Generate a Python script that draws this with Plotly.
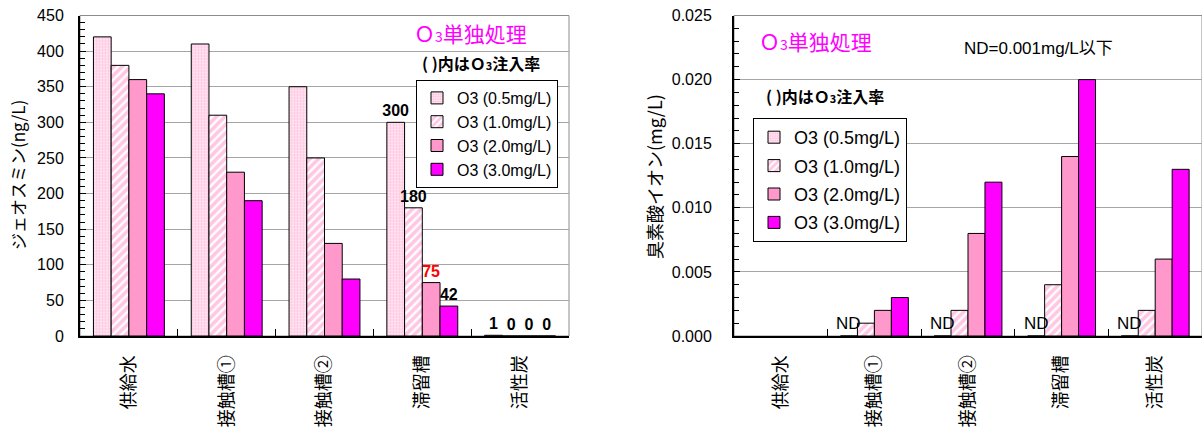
import plotly.graph_objects as go

# Sampling points along the treatment line
categories = ["供給水", "接触槽①", "接触槽②", "滞留槽", "活性炭"]
series_names = ["O3 (0.5mg/L)", "O3 (1.0mg/L)", "O3 (2.0mg/L)", "O3 (3.0mg/L)"]

# Geosmin (ng/L) for each ozone dose
geosmin_05 = [420, 410, 350, 300, 1]
geosmin_10 = [380, 310, 250, 180, 0]
geosmin_20 = [360, 230, 130, 75, 0]
geosmin_30 = [340, 190, 80, 42, 0]

geosmin_text_05 = ["", "", "", "300", "1"]
geosmin_text_10 = ["", "", "", "180", "0"]
geosmin_text_20 = ["", "", "", "75", "0"]
geosmin_text_30 = ["", "", "", "42", "0"]

# Bromate (mg/L); None = not measured, 0 = below detection (ND)
bromate_05 = [None, 0, 0, 0, 0]
bromate_10 = [None, 0.001, 0.002, 0.004, 0.002]
bromate_20 = [None, 0.002, 0.008, 0.014, 0.006]
bromate_30 = [None, 0.003, 0.012, 0.020, 0.013]

bromate_text_05 = ["", "ND", "ND", "ND", "ND"]

LATIN = "Liberation Sans, Arial, Noto Sans CJK JP"
CJK = "Noto Sans CJK JP, Liberation Sans"

PINK = "#FF99CC"
MAGENTA = "#FF00FF"

styles = [
    dict(color="#FFF0F7", pattern=dict(shape=".", fgcolor="#FF99CC", bgcolor="#FFF0F7",
                                       size=3, solidity=0.6)),
    dict(color="white", pattern=dict(shape="/", fgcolor="#FF8FC7", bgcolor="white",
                                     size=6, solidity=0.6)),
    dict(color=PINK),
    dict(color=MAGENTA),
]

H = 430
W = 1202
BARGAP = 0.275
RIGHT_X0 = 734

fig = go.Figure()

left_values = [geosmin_05, geosmin_10, geosmin_20, geosmin_30]
left_texts = [geosmin_text_05, geosmin_text_10, geosmin_text_20, geosmin_text_30]
left_text_colors = [
    ["black"] * 5,
    ["black"] * 5,
    ["black", "black", "black", "#FF0000", "black"],
    ["black"] * 5,
]

for name, vals, txt, tcol, st in zip(series_names, left_values, left_texts,
                                     left_text_colors, styles):
    fig.add_trace(go.Bar(
        x=categories, y=vals, name=name,
        marker=dict(**st, line=dict(color="black", width=1)),
        text=txt, textposition="outside", constraintext="none", cliponaxis=False,
        textfont=dict(family=LATIN, size=16, color=tcol, weight="bold"),
        xaxis="x", yaxis="y", legend="legend",
    ))

right_values = [bromate_05, bromate_10, bromate_20, bromate_30]
for i, (name, vals, st) in enumerate(zip(series_names, right_values, styles)):
    fig.add_trace(go.Bar(
        x=categories, y=vals, name=name,
        marker=dict(**st, line=dict(color="black", width=1)),
        xaxis="x2", yaxis="y2", legend="legend2", legendgroup=f"g{i}",
    ))

# "ND" markers above the 0.5 mg/L slot, drawn on top of the neighbouring bars
cat_px = (W - RIGHT_X0) / len(categories)
bar_px = cat_px * (1 - BARGAP) / len(series_names)
for cat, val, label in zip(categories, bromate_05, bromate_text_05):
    if label:
        fig.add_annotation(
            x=cat, y=val, xref="x2", yref="y2", text=label, showarrow=False,
            xanchor="center", yanchor="bottom", xshift=-1.5 * bar_px, yshift=1,
            font=dict(family=LATIN, size=17, color="black"),
        )

ydom = [(H - 336) / H, (H - 15.5) / H]

xcommon = dict(
    type="category", showline=True, linecolor="black", linewidth=2,
    ticks="inside", ticklen=7, tickcolor="black", tickson="boundaries",
    tickangle=-90, tickfont=dict(family=CJK, size=18, color="black"),
    ticklabelstandoff=10, showgrid=False, automargin=False, zeroline=False,
)
ycommon = dict(
    showline=True, linecolor="black", linewidth=2, ticks="inside", ticklen=6,
    tickcolor="black", showgrid=True, gridcolor="#A6A6A6", gridwidth=1,
    zeroline=False, tickfont=dict(family=LATIN, size=16, color="black"),
    automargin=False, domain=ydom,
)

fig.update_layout(
    width=W, height=H, margin=dict(l=0, r=0, t=0, b=0),
    paper_bgcolor="white", plot_bgcolor="white",
    barmode="group", bargap=BARGAP, bargroupgap=0,
    xaxis=dict(**xcommon, domain=[80 / W, 569 / W], anchor="y"),
    yaxis=dict(**ycommon, anchor="x", range=[0, 450], dtick=50,
               ticklabelstandoff=11,
               minor=dict(dtick=10, ticks="inside", ticklen=5, tickcolor="black",
                          showgrid=False)),
    xaxis2=dict(**xcommon, domain=[RIGHT_X0 / W, 1.0], anchor="y2"),
    yaxis2=dict(**ycommon, anchor="x2", range=[0, 0.025], dtick=0.005,
                tickformat=".3f", ticklabelstandoff=17,
                minor=dict(dtick=0.001, ticks="inside", ticklen=5, tickcolor="black",
                           showgrid=False)),
    legend=dict(x=416 / W, y=(H - 80) / H, xanchor="left", yanchor="top",
                bgcolor="white", bordercolor="black", borderwidth=1,
                font=dict(family=LATIN, size=16, color="black"),
                tracegroupgap=0),
    legend2=dict(x=753 / W, y=(H - 118) / H, xanchor="left", yanchor="top",
                 bgcolor="white", bordercolor="black", borderwidth=1,
                 font=dict(family=LATIN, size=18, color="black"),
                 traceorder="grouped", tracegroupgap=2),
    showlegend=True,
)

# Plot-area frames (top/right edges in grey)
for xr, yr in (("x domain", "y domain"), ("x2 domain", "y2 domain")):
    fig.add_shape(type="rect", xref=xr, yref=yr, x0=0, x1=1, y0=0, y1=1,
                  line=dict(color="#8C8C8C", width=1), layer="below")

def ann(x, y, text, size, color="black", family=CJK, bold=False, angle=0):
    fig.add_annotation(
        x=x / W, y=(H - y) / H, xref="paper", yref="paper", text=text,
        showarrow=False, xanchor="center", yanchor="middle", textangle=angle,
        font=dict(family=family, size=size, color=color,
                  weight="bold" if bold else "normal"),
    )

o3_title = "Ｏ<span style='font-size:14px'>3</span>単独処理"
o3_note = "( )内はＯ<span style='font-size:11px'>3</span>注入率"

ann(470, 33, o3_title, 21, MAGENTA)
ann(481, 63, o3_note, 16, bold=True)
ann(18, 175, "ジェオスミン(ng/L)", 17, angle=-90)

ann(815, 41, o3_title, 21, MAGENTA)
ann(825, 96, o3_note, 16, bold=True)
ann(1038, 48, "ND=0.001mg/L以下", 17, family=LATIN)
ann(654, 177, "臭素酸イオン(mg/L)", 18, angle=-90)

fig.write_html("out.html")
